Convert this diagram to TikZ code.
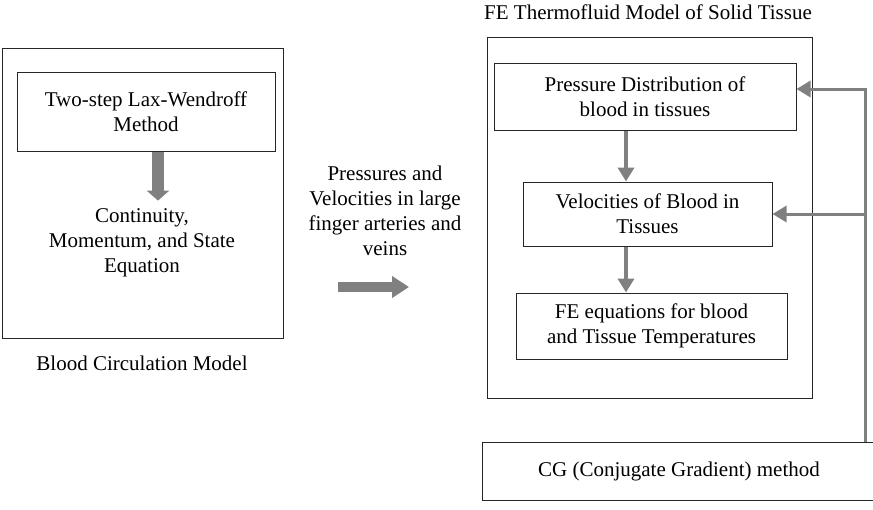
\documentclass[tikz,border=0pt]{standalone}
\usepackage{fontspec}
\setmainfont{Liberation Serif}
\usetikzlibrary{arrows.meta}
\colorlet{penColor}{black!85}
\colorlet{arrowColor}{black!50}
\tikzset{>={Triangle[width=16pt,length=14pt]}}
\tikzset{
  txt/.style={font=\fontsize{21}{25}\selectfont,align=center,inner sep=0pt},
  box/.style={txt,draw=penColor,line width=1pt},
  frame/.style={draw=penColor,line width=1pt},
  grayarrow/.style={arrowColor,line width=4pt,->},
  fbline/.style={arrowColor,line width=3pt,->},
  bigarrow/.style={arrowColor,line width=12pt,-{Triangle[width=22pt,length=10pt]}}
}
\begin{document}
\begin{tikzpicture}[x=1pt,y=-1pt]
      \useasboundingbox (0,0) rectangle (873,509);
      % blood circulation side
      \node[frame,minimum width=281pt,minimum height=290pt] (bcm) at (142.5,193) {};
      \node[box,minimum width=258pt,minimum height=79pt] (lw) at (146,111.5) {Two-step Lax-Wendroff\\Method};
      \node[txt] (cme) at (142,243) {Continuity,\\Momentum, and State\\Equation};
      \node[txt] (bcmtitle) at (142,363) {Blood Circulation Model};
      \draw[bigarrow,shorten >=8pt] ([xshift=12pt]lw.south) -- ([xshift=16pt]cme.north);
      % transfer
      \node[txt] (pv) at (385,211) {Pressures and\\Velocities in large\\finger arteries and\\veins};
      \coordinate (a1) at (338,287);
      \coordinate (a2) at (409,287);
      \draw[arrowColor,line width=10pt,-{Triangle[width=21pt,length=17pt]}] (a1) -- (a2);
      % thermofluid side
      \node[txt] (fetitle) at (648,12) {FE Thermofluid Model of Solid Tissue};
      \node[frame,minimum width=325pt,minimum height=361pt] (fem) at (649.5,217.5) {};
      \node[box,minimum width=302pt,minimum height=67pt] (pd) at (645,96.5) {Pressure Distribution of\\blood in tissues};
      \node[box,minimum width=249pt,minimum height=64pt] (vel) at (647.5,214) {Velocities of Blood in\\Tissues};
      \node[box,minimum width=271pt,minimum height=66pt] (fe) at (651.5,326) {FE equations for blood\\and Tissue Temperatures};
      \draw[grayarrow] ([xshift=-19pt]pd.south) -- ([xshift=-21.5pt]vel.north);
      \draw[grayarrow] ([xshift=-21.5pt]vel.south) -- ([xshift=-25.5pt]fe.north);
      % solver
      \node[box,minimum width=394pt,minimum height=58pt] (cg) at (679,471) {CG (Conjugate Gradient) method};
      \coordinate (fb) at (865,442);
      \draw[fbline] (fb) |- ([yshift=7.5pt]pd.east);
      \draw[fbline] (fb) |- (vel.east);
\end{tikzpicture}
\end{document}
